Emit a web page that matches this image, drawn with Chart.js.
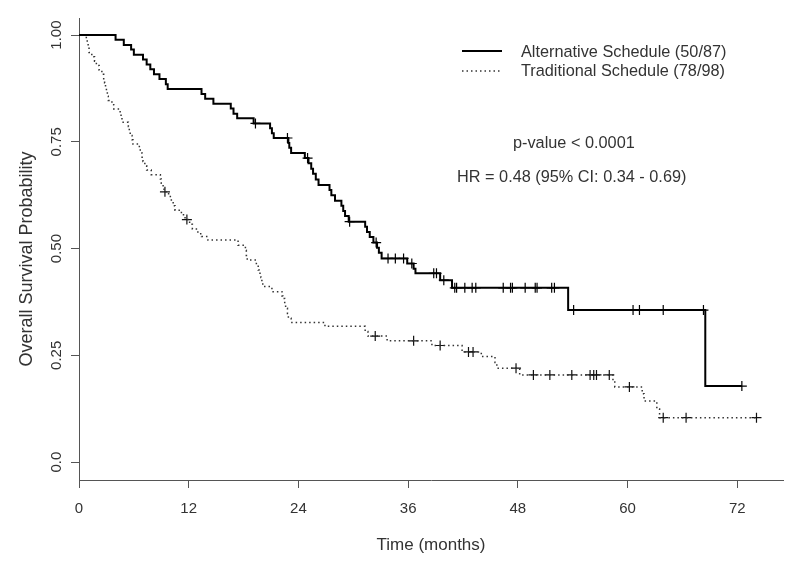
<!DOCTYPE html>
<html>
<head>
<meta charset="utf-8">
<script src="https://cdn.jsdelivr.net/npm/chart.js@4/dist/chart.umd.min.js"></script>
<style>
  html, body { margin: 0; padding: 0; background: #fff; }
  #wrap { width: 800px; height: 565px; }
</style>
</head>
<body>
<div id="wrap"><canvas id="km"></canvas></div>
<script>
// Kaplan-Meier : courbes (mois, probabilité)
const altTimes = [0, 4.0, 4.9, 5.7, 6.0, 7.0, 7.4, 7.8, 8.2, 8.8, 9.5, 9.7,
    13.4, 13.8, 14.7, 16.6, 16.9, 17.3, 19.1, 20.9, 21.1, 21.3, 22.9, 23.0, 23.2,
    24.7, 25.1, 25.4, 25.6, 25.9, 26.2, 27.4, 27.6, 28.0, 28.7, 28.9, 29.1, 29.5,
    31.3, 31.5, 31.8, 32.2, 32.6, 32.8, 33.1, 35.9, 36.6, 36.8, 39.5, 40.8, 53.5, 68.5, 72.5];
const altSurv = [1.0, 0.989, 0.977, 0.966, 0.954, 0.943, 0.931, 0.920, 0.908, 0.897, 0.885, 0.874,
    0.862, 0.851, 0.839, 0.828, 0.816, 0.805, 0.793, 0.782, 0.770, 0.759, 0.747, 0.736, 0.724,
    0.712, 0.700, 0.687, 0.675, 0.662, 0.649, 0.637, 0.625, 0.612, 0.600, 0.588, 0.576, 0.563,
    0.551, 0.539, 0.527, 0.514, 0.502, 0.490, 0.477, 0.465, 0.453, 0.442, 0.426, 0.408, 0.356, 0.178, 0.178];
const altCensor = [19.3, 22.8, 25.0, 29.6, 32.5, 33.8, 34.6, 35.5, 36.4, 38.8, 39.1, 39.9,
    41.1, 41.3, 42.2, 43.0, 43.4, 46.4, 47.2, 47.4, 48.8, 49.9, 50.1, 51.7, 52.0,
    54.1, 60.6, 61.3, 63.9, 68.3, 72.5];

const tradTimes = [0, 0.8, 0.9, 1.0, 1.1, 1.4, 1.7, 1.9, 2.2, 2.5, 2.7, 2.8, 2.9, 3.0, 3.1, 3.2,
    3.6, 3.8, 4.5, 4.6, 4.7, 5.4, 5.5, 5.6, 5.8, 5.9, 6.6, 6.7, 6.9, 7.0, 7.2, 7.4, 7.9, 8.9, 9.0,
    9.2, 9.3, 9.8, 10.1, 10.3, 10.5, 11.2, 11.6, 12.1, 12.4, 13.0, 13.4, 14.1, 17.4, 18.2, 18.3,
    18.4, 19.4, 19.6, 19.7, 19.9, 20.0, 20.1, 21.1, 22.2, 22.3, 22.5, 22.6, 22.8, 22.9, 23.2,
    26.9, 31.3, 31.6, 33.7, 38.6, 41.9, 44.0, 45.5, 45.7, 48.2, 58.4, 58.6, 61.6, 61.8, 63.2, 63.5, 74.1];
const tradSurv = [1.0, 0.990, 0.980, 0.969, 0.959, 0.949, 0.939, 0.929, 0.918, 0.908, 0.898, 0.888,
    0.878, 0.867, 0.857, 0.847, 0.837, 0.827, 0.816, 0.806, 0.796, 0.786, 0.776, 0.765, 0.755,
    0.745, 0.735, 0.724, 0.714, 0.704, 0.694, 0.684, 0.673, 0.663, 0.653, 0.643, 0.633, 0.622,
    0.611, 0.600, 0.590, 0.579, 0.568, 0.557, 0.546, 0.535, 0.528, 0.520, 0.508, 0.496, 0.484,
    0.473, 0.461, 0.450, 0.442, 0.432, 0.421, 0.411, 0.399, 0.389, 0.383, 0.371, 0.360, 0.348,
    0.337, 0.327, 0.318, 0.306, 0.295, 0.284, 0.273, 0.258, 0.247, 0.233, 0.220, 0.204, 0.190,
    0.176, 0.160, 0.143, 0.124, 0.104, 0.104];
const tradCensor = [9.4, 11.8, 32.4, 36.6, 39.5, 42.6, 43.1, 47.8, 49.7, 51.5, 53.9, 55.9,
    56.3, 56.6, 58.0, 60.2, 63.9, 66.4, 74.1];

const xTicks = [0, 12, 24, 36, 48, 60, 72];
const yTicks = [0, 0.25, 0.5, 0.75, 1.0];
const yTickLabels = ['0.0', '0.25', '0.50', '0.75', '1.00'];

const legendLabels = ['Alternative Schedule (50/87)', 'Traditional Schedule (78/98)'];
const pValueText = 'p-value < 0.0001';
const hrText = 'HR = 0.48 (95% CI: 0.34 - 0.69)';

const FONT = '"Liberation Sans", Arial, sans-serif';
const TEXT = '#333';
const AXIS = '#555';

const points = (ts, ss) => ts.map((t, i) => ({ x: t, y: ss[i] }));
// valeur de la courbe en escalier au temps t (pour poser les "+")
const surAt = (ts, ss, t) => {
    let v = ss[0];
    for (let i = 0; i < ts.length; i++) if (ts[i] <= t) v = ss[i];
    return v;
};
const censure = (c, ts, ss) => c.map(t => ({ x: t, y: surAt(ts, ss, t) }));

const decor = {
    id: 'decor',
    afterDraw(chart) {
        const { ctx, chartArea: a, scales: { y } } = chart;
        ctx.save();
        ctx.fillStyle = TEXT;
        ctx.font = '15px ' + FONT;
        // étiquettes Y verticales (style R)
        yTicks.forEach((v, i) => {
            ctx.save();
            ctx.translate(57, y.getPixelForValue(v));
            ctx.rotate(-Math.PI / 2);
            ctx.textAlign = 'center';
            ctx.textBaseline = 'middle';
            ctx.fillText(yTickLabels[i], 0, 0);
            ctx.restore();
        });
        // titre Y
        ctx.save();
        ctx.font = '18px ' + FONT;
        ctx.translate(27, (a.top + a.bottom) / 2 + 10);
        ctx.rotate(-Math.PI / 2);
        ctx.textAlign = 'center';
        ctx.textBaseline = 'middle';
        ctx.fillText('Overall Survival Probability', 0, 0);
        ctx.restore();

        // légende
        ctx.strokeStyle = '#000';
        ctx.lineWidth = 2;
        ctx.beginPath(); ctx.moveTo(462, 51); ctx.lineTo(502, 51); ctx.stroke();
        ctx.strokeStyle = '#333';
        ctx.lineWidth = 1.5;
        ctx.setLineDash([1.5, 3]);
        ctx.beginPath(); ctx.moveTo(462, 71); ctx.lineTo(502, 71); ctx.stroke();
        ctx.setLineDash([]);
        ctx.font = '16.3px ' + FONT;
        ctx.textAlign = 'left';
        ctx.textBaseline = 'middle';
        ctx.fillText(legendLabels[0], 521, 53);
        ctx.fillText(legendLabels[1], 521, 72);

        // annotations
        ctx.fillText(pValueText, 513, 144);
        ctx.fillText(hrText, 457, 178);
        ctx.restore();
    },
};

new Chart(document.getElementById('km'), {
    type: 'line',
    data: {
        datasets: [
            {
                label: legendLabels[0],
                data: points(altTimes, altSurv),
                stepped: true,
                borderColor: '#000',
                borderWidth: 2,
                pointRadius: 0,
                fill: false,
            },
            {
                label: legendLabels[1],
                data: points(tradTimes, tradSurv),
                stepped: true,
                borderColor: '#333',
                borderWidth: 1.5,
                borderDash: [1.5, 3],
                pointRadius: 0,
                fill: false,
            },
            {
                type: 'scatter',
                data: censure(altCensor, altTimes, altSurv),
                pointStyle: 'cross',
                pointRadius: 5,
                borderColor: '#000',
                borderWidth: 1.2,
                showLine: false,
            },
            {
                type: 'scatter',
                data: censure(tradCensor, tradTimes, tradSurv),
                pointStyle: 'cross',
                pointRadius: 5,
                borderColor: '#111',
                borderWidth: 1.2,
                showLine: false,
            },
        ],
    },
    options: {
        responsive: true,
        maintainAspectRatio: false,
        animation: false,
        events: [],
        layout: { padding: { left: 0, top: 18, right: 17, bottom: 0 } },
        plugins: { legend: { display: false }, tooltip: { enabled: false } },
        scales: {
            x: {
                type: 'linear',
                min: 0,
                max: 77,
                afterFit: (s) => { s.height = 85; },
                afterBuildTicks: (s) => { s.ticks = xTicks.map(v => ({ value: v })); },
                ticks: { color: TEXT, font: { family: FONT, size: 15 }, padding: 12, maxRotation: 0 },
                grid: { drawOnChartArea: false, drawTicks: true, tickLength: 8, color: AXIS },
                border: { display: true, color: AXIS, width: 1 },
                title: { display: true, text: 'Time (months)', color: TEXT, font: { family: FONT, size: 17 }, padding: { top: 8, bottom: 9 } },
            },
            y: {
                type: 'linear',
                min: -0.042,
                max: 1.04,
                afterFit: (s) => { s.width = 79; },
                afterBuildTicks: (s) => { s.ticks = yTicks.map(v => ({ value: v })); },
                ticks: { display: false },
                grid: { drawOnChartArea: false, drawTicks: true, tickLength: 8, color: AXIS },
                border: { display: true, color: AXIS, width: 1 },
            },
        },
    },
    plugins: [decor],
});
</script>
</body>
</html>
